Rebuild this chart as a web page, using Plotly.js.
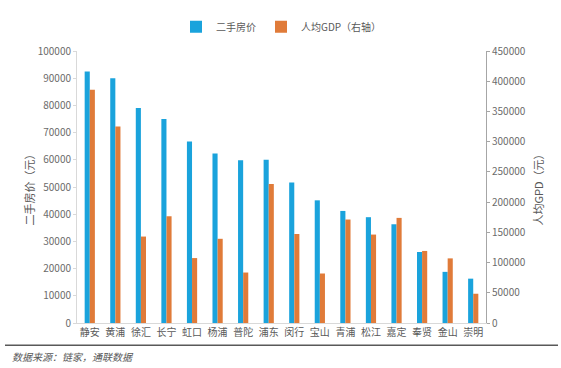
<!DOCTYPE html>
<html>
<head>
<meta charset="utf-8">
<script src="https://cdn.plot.ly/plotly-3.0.1.min.js"></script>
<style>html,body{margin:0;padding:0;background:#fff;}#chart{width:561px;height:368px;}</style>
</head>
<body>
<div id="chart"></div>
<script>
var categories = ['静安','黄浦','徐汇','长宁','虹口','杨浦','普陀','浦东','闵行','宝山','青浦','松江','嘉定','奉贤','金山','崇明'];
var housePrice = [92500, 90000, 79000, 75000, 66700, 62300, 59800, 60000, 51700, 45100, 41200, 38900, 36300, 26100, 18800, 16300];
var gdpPerCapita = [386000, 325000, 143000, 176600, 107400, 139300, 83500, 229800, 147300, 81900, 171200, 146300, 173900, 119200, 106900, 48400];
var leftTicks = [0,10000,20000,30000,40000,50000,60000,70000,80000,90000,100000];
var rightTicks = [0,50000,100000,150000,200000,250000,300000,350000,400000,450000];

var FONT = '"Noto Sans CJK SC", "Noto Sans", sans-serif';
var GREY = '#595959';
var TICKGREY = '#6b6b6b';

var traces = [
  {type:'bar', name:'二手房价', x:categories, y:housePrice, yaxis:'y', offsetgroup:'a',
   marker:{color:'#1aa3dc'}, hoverinfo:'x+y'},
  {type:'bar', name:'人均GDP（右轴）', x:categories, y:gdpPerCapita, yaxis:'y2', offsetgroup:'b',
   marker:{color:'#e07b39'}, hoverinfo:'x+y'}
];

var W = 409, H = 282, L = 77, T = 41;
function px(v){ return (v - L)/W; }
function py(v){ return (T + H - v)/H; }

var layout = {
  width:561, height:368,
  margin:{l:77, r:75, t:41, b:45, pad:0},
  paper_bgcolor:'#ffffff', plot_bgcolor:'#ffffff',
  font:{family:FONT, size:10, color:GREY},
  barmode:'group', bargap:0.6, bargroupgap:0,
  showlegend:true,
  legend:{orientation:'h', x:0.5, xanchor:'center', y:1.089, yanchor:'middle',
          font:{size:10, color:GREY}, itemwidth:30, tracegroupgap:0, bgcolor:'rgba(0,0,0,0)'},
  xaxis:{type:'category', showline:true, linecolor:'#d9d9d9', linewidth:1, ticks:'',
         tickfont:{size:10, color:GREY}, showgrid:false, zeroline:false, fixedrange:true},
  yaxis:{range:[0,100000], tickvals:leftTicks, tickformat:'d', showline:true, linecolor:'#d9d9d9',
         ticks:'outside', ticklen:3, tickcolor:'#d9d9d9', showgrid:false, zeroline:false,
         tickfont:{size:10, color:TICKGREY}, automargin:false,
         title:{text:'二手房价（元）', font:{size:11, color:GREY}, standoff:0}},
  yaxis2:{range:[0,450000], tickvals:rightTicks, tickformat:'d', overlaying:'y', side:'right',
          showline:true, linecolor:'#a6a6a6', ticks:'outside', ticklen:3, tickcolor:'#a6a6a6',
          showgrid:false, zeroline:false, tickfont:{size:10, color:TICKGREY}, automargin:false,
          title:{text:'人均GPD（元）', font:{size:11, color:GREY}, standoff:10}},
  shapes:[
    {type:'line', xref:'paper', yref:'paper', x0:px(5), x1:px(558), y0:py(346), y1:py(346),
     line:{color:'#595959', width:1.5}}
  ],
  annotations:[
    {xref:'paper', yref:'paper', x:px(10), y:py(358), xanchor:'left', yanchor:'middle',
     text:'<i>数据来源：链家，通联数据</i>', showarrow:false, font:{size:10, color:GREY}}
  ]
};

Plotly.newPlot('chart', traces, layout, {displayModeBar:false, staticPlot:true});
</script>
</body>
</html>
